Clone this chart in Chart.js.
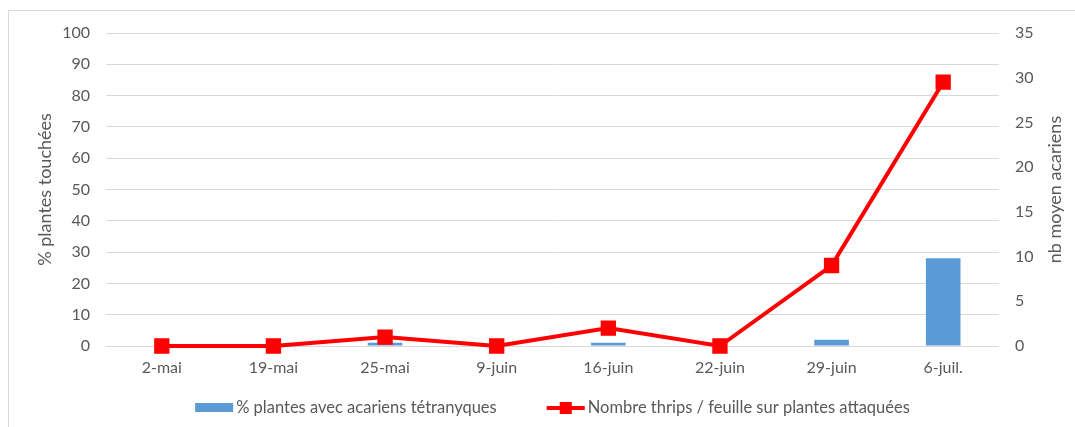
<!DOCTYPE html>
<html>
<head>
<meta charset="utf-8">
<script src="https://cdn.jsdelivr.net/npm/chart.js@4/dist/chart.umd.min.js"></script>
<style>
  html, body { margin: 0; padding: 0; background: #fff; }
  #frame {
    position: absolute; left: 8px; top: 10px; width: 1075px; height: 430px;
    border: 1px solid #d9d9d9; box-sizing: border-box;
  }
  #wrap { position: absolute; left: 0; top: 0; width: 1075px; height: 427px; }
</style>
</head>
<body>
<div id="frame"></div>
<div id="wrap"><canvas id="chart" width="1075" height="427"></canvas></div>
<script>
const dates = ["2-mai", "19-mai", "25-mai", "9-juin", "16-juin", "22-juin", "29-juin", "6-juil."]
const pctAcariens = [0, 0, 1, 0, 1, 0, 2, 28]
const thripsParFeuille = [0, 0, 1, 0, 2, 0, 9, 29.5]
const leftTicks = [0, 10, 20, 30, 40, 50, 60, 70, 80, 90, 100]
const rightTicks = [0, 5, 10, 15, 20, 25, 30, 35]
const rightTitle = 'nb moyen acariens'

const blue = "#5b9bd5"
const red = "#ff0000"
const grey = "#595959"
const fontFam = "Lato, 'Open Sans', sans-serif"

// legend drawn by hand: a bar swatch and a line-with-square swatch,
// plus the right axis title written bottom-to-top like the left one
const extrasPlugin = {
    id: 'extras',
    afterDraw(chart) {
        const ctx = chart.ctx
        const area = chart.chartArea
        const items = [
            { text: chart.data.datasets[0].label, type: 'bar' },
            { text: chart.data.datasets[1].label, type: 'line' }
        ]
        ctx.save()
        ctx.font = "16.5px " + fontFam
        ctx.textBaseline = 'middle'
        const sw = 38, gap = 3, between = 50
        var total = 0
        items.forEach(it => { it.w = ctx.measureText(it.text).width; total += sw + gap + it.w })
        total += between
        var x = (area.left + area.right) / 2 - total / 2
        const y = 408
        items.forEach(it => {
            if (it.type == 'bar') {
                ctx.fillStyle = blue
                ctx.fillRect(x, y - 5, sw, 9)
            } else {
                ctx.strokeStyle = red
                ctx.lineWidth = 4
                ctx.beginPath()
                ctx.moveTo(x, y)
                ctx.lineTo(x + sw, y)
                ctx.stroke()
                ctx.fillStyle = red
                ctx.fillRect(x + sw / 2 - 6, y - 6, 12, 12)
            }
            x += sw + gap
            ctx.fillStyle = grey
            ctx.fillText(it.text, x, y)
            x += it.w + between
        })

        ctx.font = "18px " + fontFam
        ctx.textAlign = 'center'
        ctx.translate(1055, (area.top + area.bottom) / 2)
        ctx.rotate(-Math.PI / 2)
        ctx.fillText(rightTitle, 0, 0)
        ctx.restore()
    }
}

new Chart(document.getElementById("chart"), {
    type: 'bar',
    data: {
        labels: dates,
        datasets: [{
            label: '% plantes avec acariens tétranyques',
            data: pctAcariens,
            backgroundColor: blue,
            yAxisID: 'y',
            barPercentage: 0.31,
            categoryPercentage: 1,
            order: 2
        },
        {
            type: 'line',
            label: 'Nombre thrips / feuille sur plantes attaquées',
            data: thripsParFeuille,
            borderColor: red,
            backgroundColor: red,
            borderWidth: 4,
            pointStyle: 'rect',
            pointRadius: 8,
            pointHoverRadius: 8,
            tension: 0,
            clip: false,
            yAxisID: 'y1',
            order: 1
        }]
    },
    options: {
        responsive: false,
        animation: false,
        layout: { padding: { left: 34, right: 10, top: 33, bottom: 0 } },
        plugins: {
            legend: { display: false },
            tooltip: { enabled: false }
        },
        scales: {
            x: {
                grid: { display: false, drawTicks: false },
                border: { display: false },
                ticks: { color: grey, font: { family: fontFam, size: 16 }, padding: 12, maxRotation: 0 },
                afterFit(scale) { scale.height = 81 }
            },
            y: {
                position: 'left',
                min: 0, max: 100,
                afterBuildTicks(scale) { scale.ticks = leftTicks.map(v => ({ value: v })) },
                grid: { color: "#d9d9d9", lineWidth: 1, drawTicks: false },
                border: { display: false },
                ticks: { color: grey, font: { family: fontFam, size: 16 }, padding: 16 },
                title: { display: true, text: '% plantes touchées', color: grey, font: { family: fontFam, size: 18 }, padding: 0 },
                afterFit(scale) { scale.width = 72 }
            },
            y1: {
                position: 'right',
                min: 0, max: 35,
                afterBuildTicks(scale) { scale.ticks = rightTicks.map(v => ({ value: v })) },
                grid: { display: false, drawTicks: false },
                border: { display: false },
                ticks: { color: grey, font: { family: fontFam, size: 16 }, padding: 16 },
                afterFit(scale) { scale.width = 66 }
            }
        }
    },
    plugins: [extrasPlugin]
});
</script>
</body>
</html>
